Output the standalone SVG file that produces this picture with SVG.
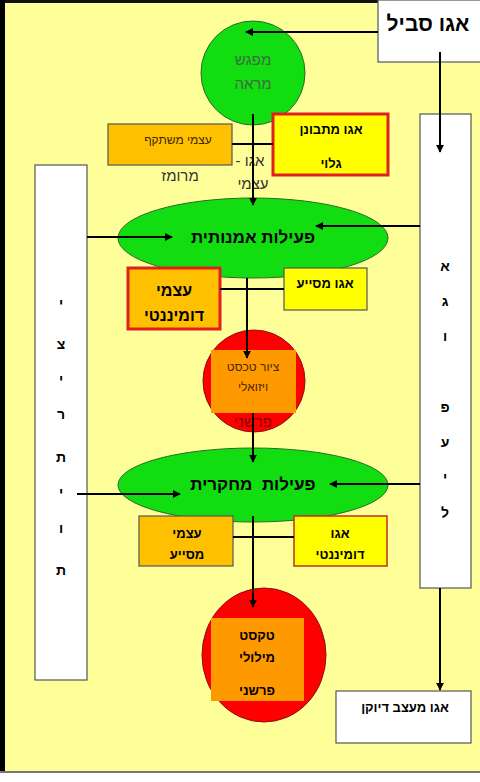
<svg xmlns="http://www.w3.org/2000/svg" width="480" height="782" viewBox="0 0 480 782">
<defs>
<marker id="ah" viewBox="0 0 10 10" refX="9" refY="5" markerWidth="8" markerHeight="8" markerUnits="userSpaceOnUse" orient="auto"><path d="M0,0 L10,5 L0,10 z" fill="#000"/></marker>
<style>
text{font-family:"Liberation Sans","DejaVu Sans",sans-serif;text-anchor:middle;fill:#000;direction:rtl;unicode-bidi:embed}
.b{font-weight:bold}
.wb{fill:#fff;stroke:#555;stroke-width:1.2}
.org{fill:#FFC000;stroke:#555;stroke-width:1.2}
.yel{fill:#FFFF00;stroke:#555;stroke-width:1.2}
.red{stroke:#E02020;stroke-width:3}
.grn{fill:#11DD11;stroke:#2a6a2a;stroke-width:1}
.rc{fill:#FF0000;stroke:#8a1010;stroke-width:1}
.in{fill:#FF9900}
.ln{stroke:#000;stroke-width:2;fill:none}
.arr{stroke:#000;stroke-width:2;fill:none;marker-end:url(#ah)}
</style>
</defs>
<rect x="0" y="0" width="480" height="782" fill="#fff"/>
<rect x="0" y="0" width="480" height="772" fill="#FFFF99"/>
<rect x="0" y="0" width="480" height="3" fill="#111"/>
<rect x="0" y="0" width="5" height="772" fill="#000"/>
<rect x="0" y="771" width="480" height="2" fill="#777"/>

<g id="ego-passive">
<rect class="wb" x="378" y="0" width="104" height="62"/>
<text class="b" x="428" y="31" font-size="21">אגו סביל</text>
</g>

<g id="mirror-meeting">
<circle class="grn" cx="253" cy="73" r="52"/>
<text x="253" y="65" font-size="15" style="fill:#3d6b3d">מפגש</text>
<text x="253" y="89" font-size="15" style="fill:#3d6b3d">מראה</text>
</g>

<g id="self-reflected">
<rect class="org" x="108" y="124" width="124" height="41"/>
<text x="178" y="144" font-size="12" style="fill:#3a2a00">עצמי משתקף</text>
</g>

<g id="ego-observer">
<rect class="yel red" x="273" y="114" width="115" height="61"/>
<text class="b" x="331" y="134" font-size="13">אגו מתבונן</text>
<text class="b" x="331" y="168" font-size="13">גלוי</text>
</g>

<g id="labels-ego-self">
<text x="180" y="181" font-size="15" style="fill:#333">מרומז</text>
<text x="250" y="166" font-size="15" style="fill:#333">אגו -&#x200F;</text>
<text x="253" y="189" font-size="15" style="fill:#333">עצמי</text>
</g>

<g id="creativity">
<rect class="wb" x="35" y="165" width="52" height="515"/>
<g class="b" font-size="14">
<text x="61" y="308">י</text>
<text x="61" y="349">צ</text>
<text x="61" y="384">י</text>
<text x="61" y="419">ר</text>
<text x="61" y="462">ת</text>
<text x="61" y="497">י</text>
<text x="61" y="533">ו</text>
<text x="61" y="575">ת</text>
</g>
</g>

<g id="ego-action">
<rect class="wb" x="420" y="114" width="51" height="474"/>
<g class="b" font-size="14">
<text x="445" y="271">א</text>
<text x="445" y="306">ג</text>
<text x="445" y="341">ו</text>
<text x="445" y="412">פ</text>
<text x="445" y="447">ע</text>
<text x="445" y="482">י</text>
<text x="445" y="517">ל</text>
</g>
</g>

<g id="artistic-activity">
<ellipse class="grn" cx="253" cy="238" rx="135" ry="40"/>
<text class="b" x="253" y="243" font-size="17">פעילות אמנותית</text>
</g>

<g id="self-dominant">
<rect class="org red" x="128" y="268" width="92" height="61"/>
<text class="b" x="174" y="296" font-size="16">עצמי</text>
<text class="b" x="174" y="321" font-size="16">דומיננטי</text>
</g>

<g id="ego-helper">
<rect class="yel" x="284" y="268" width="83" height="42"/>
<text class="b" x="325" y="288" font-size="13">אגו מסייע</text>
</g>

<g id="visual-text">
<circle class="rc" cx="254" cy="381" r="51"/>
<rect class="in" x="211" y="350" width="85" height="63"/>
<text x="253" y="371" font-size="12" style="fill:#4a2a00">ציור טכסט</text>
<text x="253" y="391" font-size="12" style="fill:#4a2a00">ויזואלי</text>
<text x="253" y="427" font-size="15" style="fill:#8B0000">פרשני</text>
</g>

<g id="research-activity">
<ellipse class="grn" cx="253" cy="485" rx="135" ry="37"/>
<text class="b" x="253" y="490" font-size="17" style="white-space:pre">פעילות  מחקרית</text>
</g>

<g id="self-helper">
<rect class="org" x="139" y="516" width="94" height="50"/>
<text class="b" x="187" y="538" font-size="13">עצמי</text>
<text class="b" x="187" y="559" font-size="13">מסייע</text>
</g>

<g id="ego-dominant">
<rect class="yel" x="294" y="516" width="93" height="50" style="stroke:#c03020;stroke-width:1.5"/>
<text class="b" x="340" y="538" font-size="13">אגו</text>
<text class="b" x="340" y="559" font-size="13">דומיננטי</text>
</g>

<g id="verbal-text">
<ellipse class="rc" cx="264" cy="655" rx="62" ry="67"/>
<rect class="in" x="211" y="618" width="93" height="83"/>
<text class="b" x="257" y="640" font-size="13">טקסט</text>
<text class="b" x="257" y="662" font-size="13">מילולי</text>
<text class="b" x="257" y="695" font-size="13">פרשני</text>
</g>

<g id="ego-designer">
<rect class="wb" x="336" y="691" width="135" height="52"/>
<text class="b" x="405" y="712" font-size="13">אגו מעצב דיוקן</text>
</g>

<g id="connectors">
<line class="arr" x1="378" y1="32" x2="246" y2="32"/>
<line class="arr" x1="440" y1="52" x2="440" y2="152"/>
<line class="ln" x1="232" y1="144" x2="273" y2="144"/>
<line class="arr" x1="253" y1="114" x2="253" y2="205"/>
<line class="arr" x1="87" y1="237" x2="172" y2="237"/>
<line class="arr" x1="420" y1="226" x2="316" y2="226"/>
<line class="ln" x1="220" y1="289" x2="284" y2="289"/>
<line class="arr" x1="247" y1="278" x2="247" y2="358"/>
<line class="arr" x1="253" y1="413" x2="253" y2="462"/>
<line class="arr" x1="77" y1="494" x2="180" y2="494"/>
<line class="arr" x1="420" y1="484" x2="330" y2="484"/>
<line class="ln" x1="233" y1="537" x2="294" y2="537"/>
<line class="arr" x1="253" y1="516" x2="253" y2="607"/>
<line class="arr" x1="440" y1="588" x2="440" y2="690"/>
</g>
</svg>
